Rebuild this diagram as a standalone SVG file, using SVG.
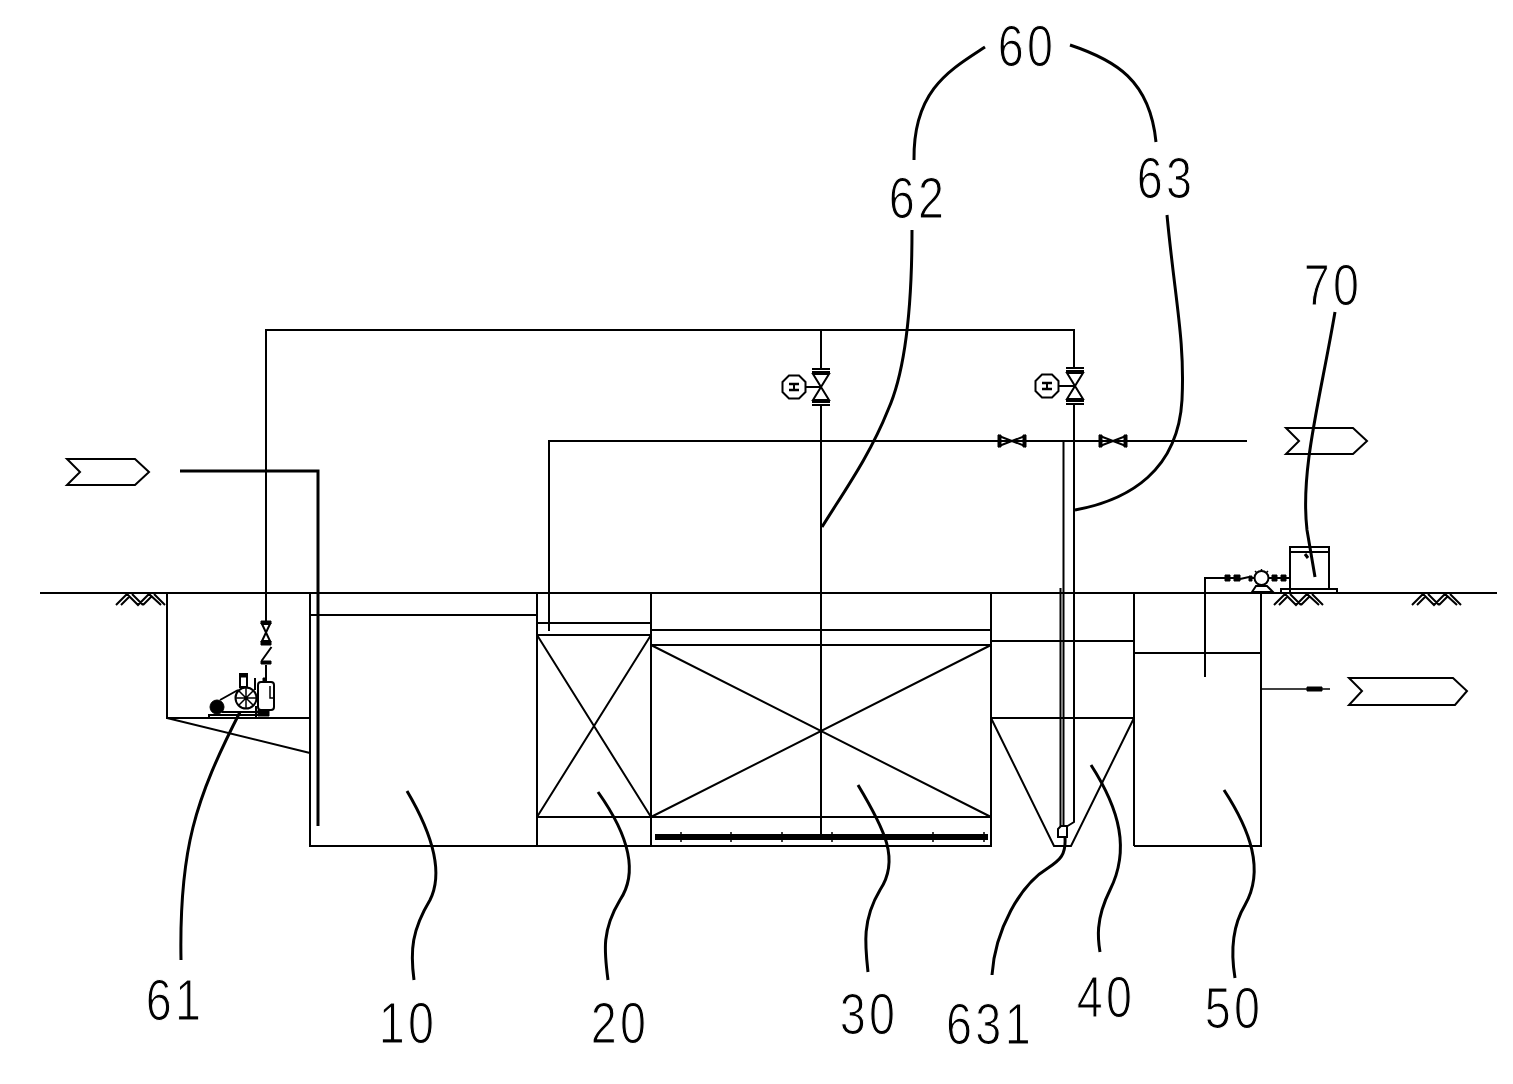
<svg xmlns="http://www.w3.org/2000/svg" width="1513" height="1084" viewBox="0 0 1513 1084">
<style>
.l{fill:none;stroke:#000;stroke-width:2}
.t{fill:none;stroke:#000;stroke-width:1.5}
.k{fill:#000;stroke:#000;stroke-width:1}
.c{fill:none;stroke:#000;stroke-width:3}
.w{fill:#fff;stroke:#000;stroke-width:2}
text{font-family:"Liberation Sans",Arial,sans-serif;font-size:57px;letter-spacing:4px;fill:#000;text-anchor:middle;stroke:#fff;stroke-width:1.2px}
</style>
<defs>
<g id="hatch"><path class="l" d="M0,11 L11,0 L22,11 L33,0 L45,11 M5,11 L13,3 M27,11 L35,3 M16,0 L27,11 M38,0 L49,11"/></g>
<g id="mv"><path class="l" d="M-9,-18 H9 M-9,-15 H9 M-9,15 H9 M-9,18 H9 M-8,-13 L8,13 H-8 L8,-13 Z"/></g>
<g id="hv"><path class="l" d="M-13,-5 L13,5 V-5 L-13,5 Z"/><path class="k" d="M-14,-6 h3 v12 h-3 Z M11,-6 h3 v12 h-3 Z"/></g>
<g id="motor"><path class="l" d="M-11.500,-5 L-5,-11.500 H5 L11.500,-5 V5 L5,11.500 H-5 L-11.500,5 Z"/><path fill="none" stroke="#000" stroke-width="2.500" d="M-5,-3 H5 M-5,3 H5"/><path class="l" d="M0,-3 V3"/></g>
</defs>
<g id="ground"><path class="l" d="M40,593 H1497"/><use href="#hatch" x="116" y="594"/><use href="#hatch" x="1274" y="594"/><use href="#hatch" x="1412" y="594"/></g>
<g id="pit"><path class="l" d="M167,593 V718 H310 M167,718 L310,753"/></g>
<g id="tank-10"><path class="l" d="M310,593 V846 H537 V593 M310,615 H537"/></g>
<g id="tank-20"><path class="l" d="M537,846 H651 V593 M537,623 H651 M537,635 H651 M537,817 H651 M537,635 L651,817 M651,635 L537,817"/></g>
<g id="tank-30"><path class="l" d="M651,846 H991 V593 M651,630 H991 M651,645 H991 M651,817 H991 M651,645 L991,817 M991,645 L651,817"/>
<path d="M655,837 H988" fill="none" stroke="#000" stroke-width="6"/><path class="t" d="M681,832 V842 M731,832 V842 M782,832 V842 M832,832 V842 M933,832 V842 M984,832 V842"/></g>
<g id="tank-40"><path class="l" d="M1134,593 V846 M991,641 H1134 M991,718 H1134 M991,718 L1054,846 H1071 L1134,718"/></g>
<g id="tank-50"><path class="l" d="M1134,846 H1261 V593 M1134,653 H1261"/></g>
<g id="unit-61">
<rect x="258" y="682" width="16" height="28" rx="3" class="w"/><path class="t" d="M270,686 V698 H274"/>
<path class="k" d="M258,710 H269 V716 H258 Z M263,678 h3 v4 h-3 Z"/>
<circle cx="246" cy="698" r="10.500" class="w"/><path class="t" d="M236,698 H256 M246,688 V708 M239,691 L253,705 M253,691 L239,705"/>
<circle cx="217" cy="707" r="7" class="k"/><path class="l" d="M220,700 L238,690 M222,712 H258 M209,718 V715 H258 M256,706 V717"/>
<path class="w" d="M240,674 H247 V687 H240 Z"/><path class="k" d="M240,674 H247 V677 H240 Z"/><path class="l" d="M255,678 V690"/>
</g>
<g id="tank-70"><path class="l" d="M1290,592 V547 H1329 V590 M1290,552 H1329"/><path class="l" d="M1281,593 V589 H1337 V593"/>
<circle cx="1261.500" cy="578" r="7" class="w"/><path class="l" d="M1252,592 L1256,586 H1267 L1273,592 Z"/><path class="t" d="M1261.500,569 V571 M1255,571 L1257,573 M1268,571 L1266,573"/>
</g>
<g id="connectors">
<path class="l" d="M266,622 V330 H1074 V368 M821,330 V368 M821,405 V835 M1074,405 V822 L1066,827"/>
<path class="l" d="M271.500,647 L261.500,661 M266,665 V682"/>
<path class="k" d="M261,621 h10 v3 h-10 Z M261,641 h10 v4 h-10 Z M261,661 h10 v3 h-10 Z"/>
<path class="l" d="M262,624 L270,641 H262 L270,624 Z"/>
<path d="M180,471 H318 V826" fill="none" stroke="#000" stroke-width="3"/>
<path class="l" d="M549,631 V441 H1247"/>
<path class="l" d="M1063.500,441 V828 M1060.500,588 V828"/>
<path class="w" d="M1058,829 L1061,826 H1067 V837 H1058 Z"/>
<use href="#mv" x="821" y="387"/><use href="#mv" x="1075" y="386"/>
<use href="#hv" x="1012" y="441"/><use href="#hv" x="1113" y="441"/>
<use href="#motor" x="794" y="387"/><use href="#motor" x="1047" y="386"/>
<path class="l" d="M805,387 H821 M1058,386 H1075"/>
<path class="l" d="M1205,677 V578 H1226 M1268,578 H1290"/>
<path class="k" d="M1225,575 h5 v6 h-5 Z M1234,575 h6 v6 h-6 Z M1249,576 h3 v5 h-3 Z M1272,575 h5 v6 h-5 Z M1281,575 h5 v6 h-5 Z"/>
<path class="l" d="M1230,578 H1234 M1240,579 L1249,577 M1252,578 H1255"/>
<path class="t" d="M1261,689 H1330"/><path class="k" d="M1307,687 h15 v4 h-15 Z"/>
</g>
<g id="tags"><path class="l" d="M67,459 H135 L149,472 L135,485 H67 L80,472 Z"/>
<path class="l" d="M1286,428 H1353 L1367,441 L1353,454 H1286 L1299,441 Z"/>
<path class="l" d="M1349,678 H1453 L1467,691 L1455,705 H1349 L1362,691 Z"/></g>
<g id="leaders">
<path class="c" d="M985,47 C950,70 913,90 914,160"/>
<path class="c" d="M1070,45 C1115,60 1150,80 1156,142"/>
<path class="c" d="M912,230 C912,300 906,370 888,410 C870,455 845,490 822,527"/>
<path class="c" d="M1167,215 C1175,300 1185,340 1182,400 C1178,470 1130,500 1075,510"/>
<path class="c" d="M1335,312 C1320,400 1300,470 1307,530 L1315,577 M1305,554 L1308,558"/>
<path class="c" d="M181,960 C179,850 195,800 240,712"/>
<path class="c" d="M407,791 C430,830 445,870 430,900 C412,930 410,950 414,980"/>
<path class="c" d="M598,792 C625,830 640,870 620,900 C602,930 604,950 608,980"/>
<path class="c" d="M858,785 C885,830 900,860 880,890 C862,920 865,945 868,972"/>
<path class="c" d="M1091,765 C1120,810 1130,850 1110,890 C1095,920 1098,940 1100,952"/>
<path class="c" d="M1224,790 C1250,830 1265,870 1245,905 C1230,930 1232,960 1235,978"/>
<path class="c" d="M1065,838 C1066,855 1060,860 1048,868 C1020,885 995,930 992,975"/>
</g>
<g id="labels">
<text transform="translate(1027,66) scale(.82,1)">60</text>
<text transform="translate(918,218) scale(.82,1)">62</text>
<text transform="translate(1166,198) scale(.82,1)">63</text>
<text transform="translate(1333,305) scale(.82,1)">70</text>
<text transform="translate(175,1020) scale(.82,1)">61</text>
<text transform="translate(408,1043) scale(.82,1)">10</text>
<text transform="translate(620,1043) scale(.82,1)">20</text>
<text transform="translate(869,1034) scale(.82,1)">30</text>
<text transform="translate(990,1044) scale(.82,1)">631</text>
<text transform="translate(1106,1017) scale(.82,1)">40</text>
<text transform="translate(1234,1028) scale(.82,1)">50</text>
</g>
</svg>
